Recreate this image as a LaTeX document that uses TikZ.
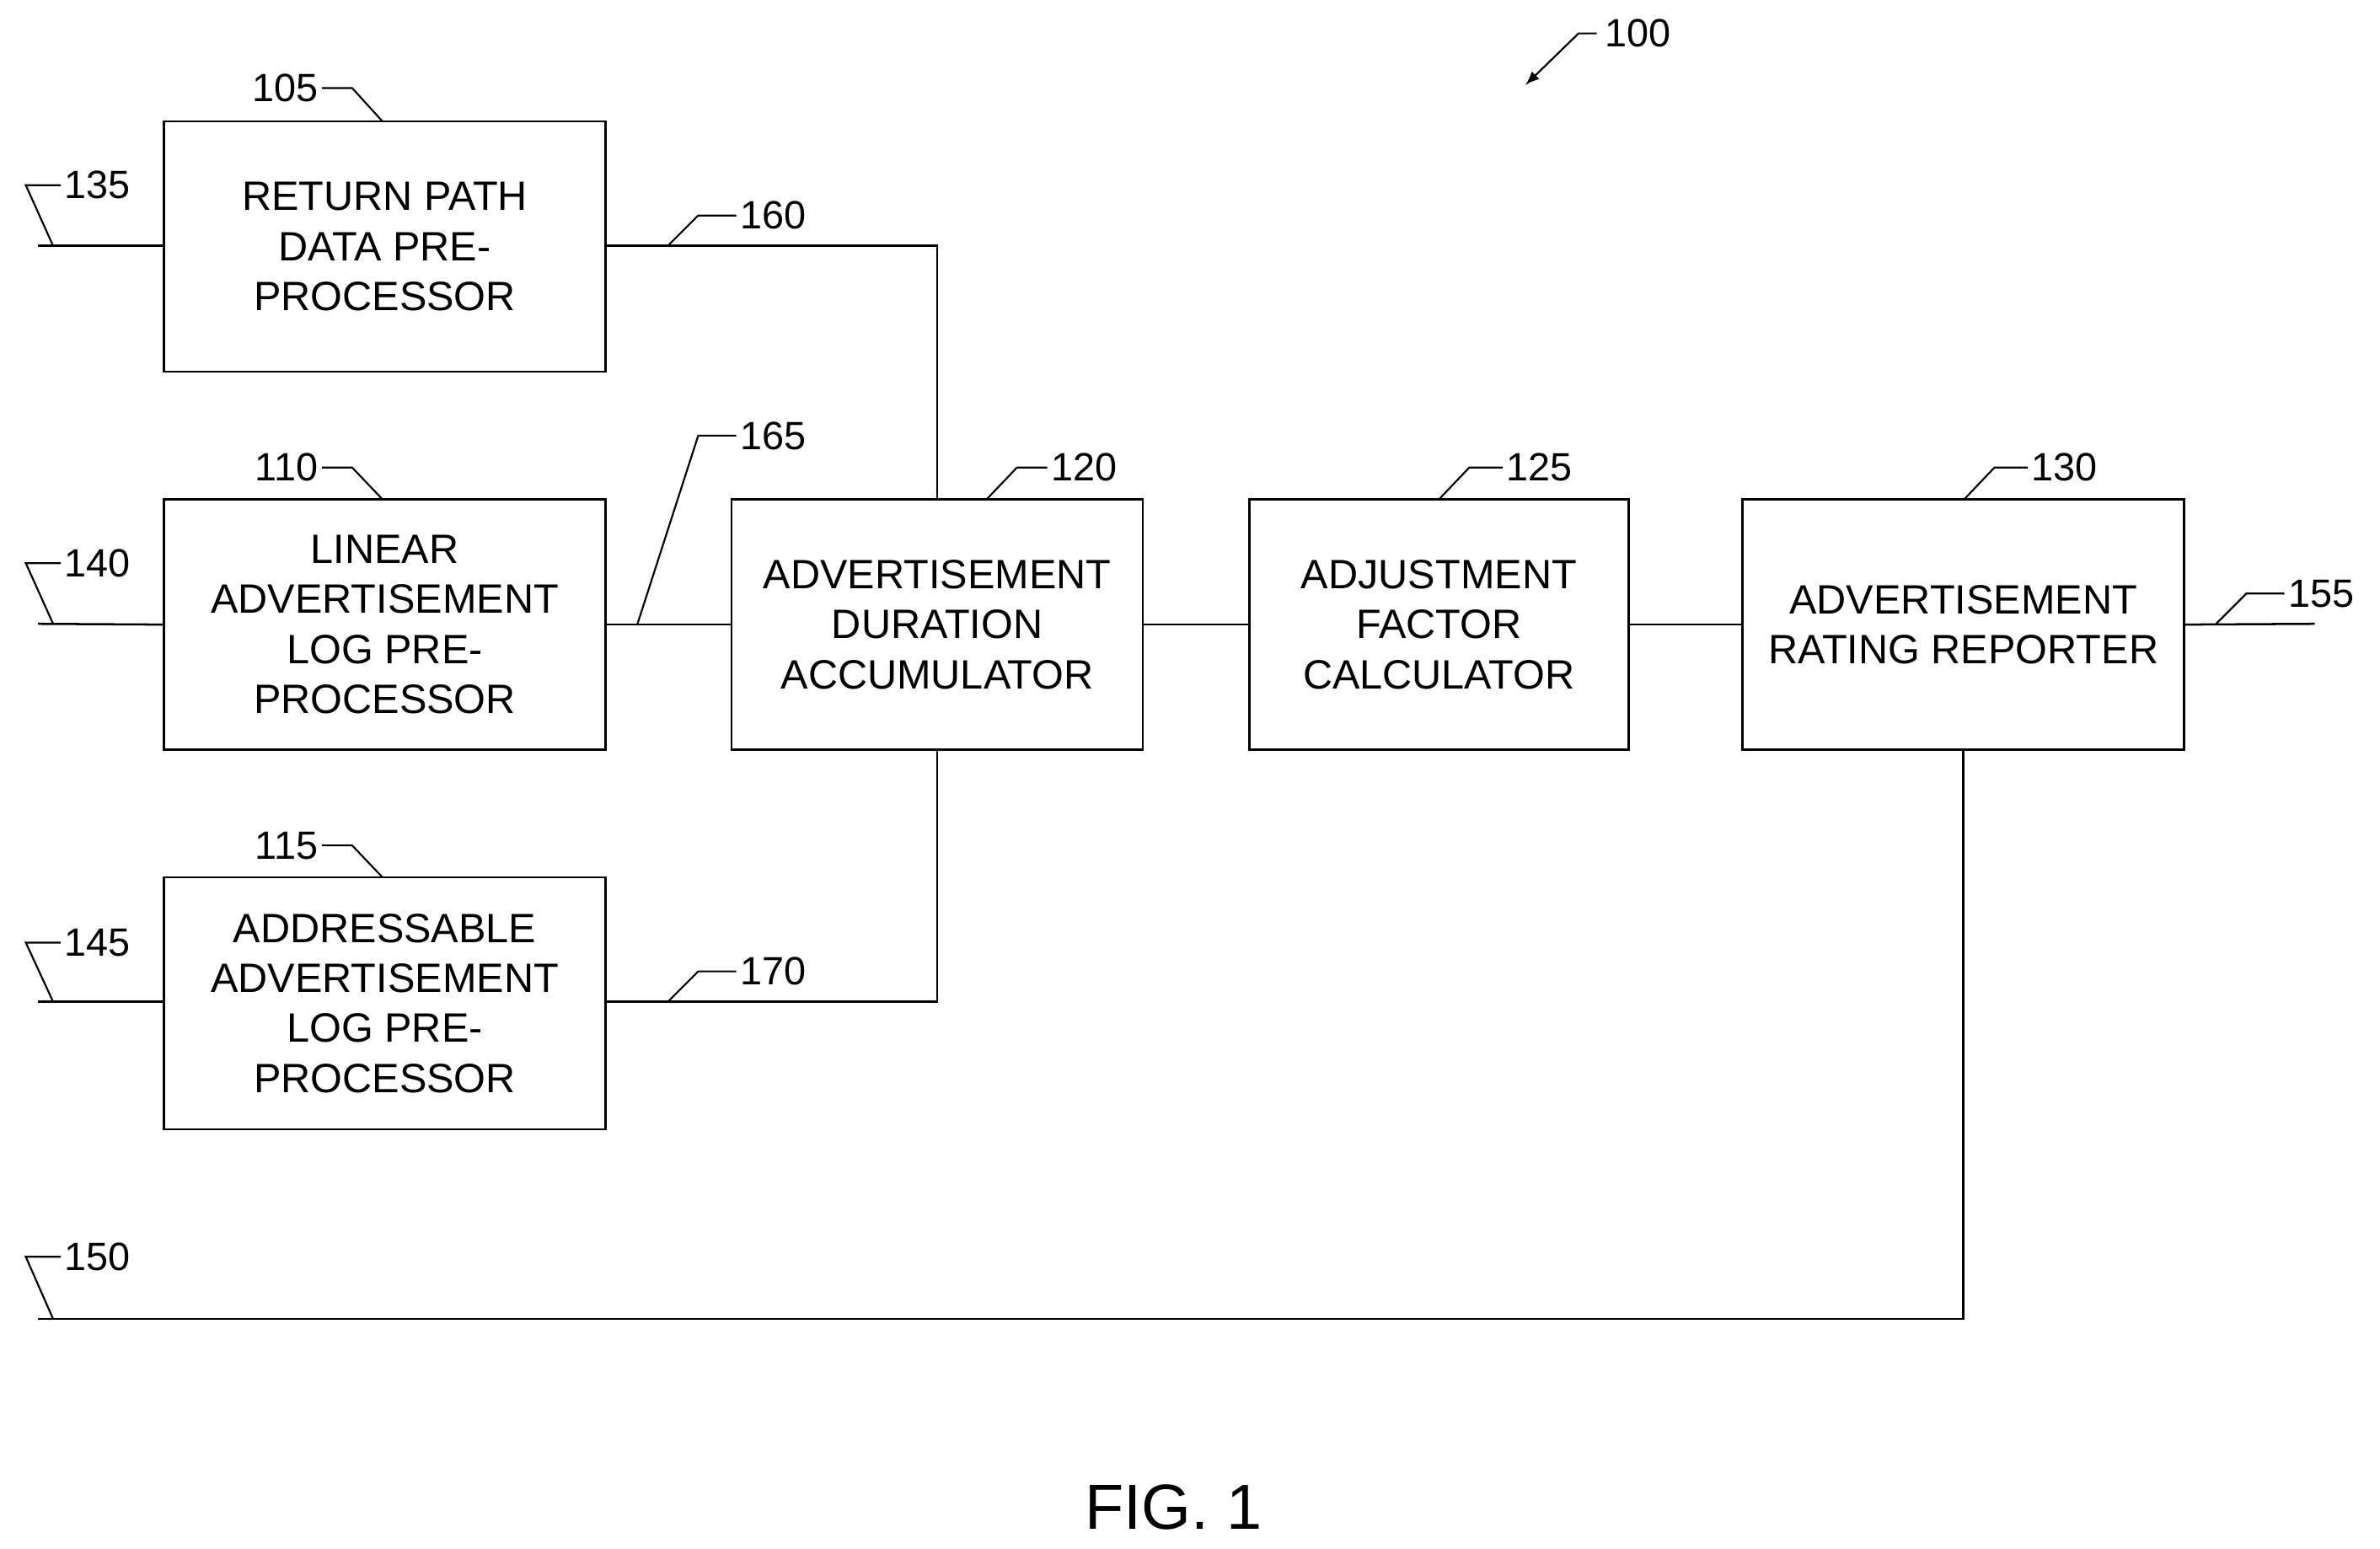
\documentclass[tikz,border=0pt]{standalone}
\usepackage{fontspec}
\setmainfont{Liberation Sans}
\usetikzlibrary{positioning}
\tikzset{
	block/.style={draw, line width=0.7pt, align=center, font=\fontsize{13.5}{16.5}\selectfont},
	lead/.style={line width=0.6pt},
	wire/.style={line width=0.7pt},
	refnum/.style={font=\fontsize{13}{15}\selectfont, inner sep=1pt}
}
\begin{document}
\begin{tikzpicture}[x=0.5pt, y=-0.5pt]
	\useasboundingbox (0,0) rectangle (1568,1020);

	% blocks
	\node[block, minimum width=145.5pt, minimum height=82.5pt] (rpd) at (253.5,162.5)
		{RETURN PATH\\DATA PRE-\\PROCESSOR};
	\node[block, minimum width=145.5pt, minimum height=82.5pt] (lin) at (253.5,411.5)
		{LINEAR\\ADVERTISEMENT\\LOG PRE-\\PROCESSOR};
	\node[block, minimum width=145.5pt, minimum height=83pt] (adr) at (253.5,661)
		{ADDRESSABLE\\ADVERTISEMENT\\LOG PRE-\\PROCESSOR};
	\node[block, minimum width=135.5pt, minimum height=82.5pt] (acc) at (617.5,411.5)
		{ADVERTISEMENT\\DURATION\\ACCUMULATOR};
	\node[block, minimum width=125pt, minimum height=82.5pt] (adj) at (948,411.5)
		{ADJUSTMENT\\FACTOR\\CALCULATOR};
	\node[block, minimum width=145.5pt, minimum height=82.5pt] (rep) at (1293.5,411.5)
		{ADVERTISEMENT\\RATING REPORTER};

	% free ends
	\coordinate (in135) at (25,162);
	\coordinate (in140) at (25,411);
	\coordinate (in145) at (25,660);
	\coordinate (in150) at (25,869);
	\coordinate (out155) at (1525,411);

	% wires
	\draw[wire] (in135) -- (rpd.west |- in135);
	\draw[wire] (in140) -- (lin.west);
	\draw[wire] (in145) -- (adr.west |- in145);
	\draw[wire] (rpd.east |- in135) -| (acc.north);
	\draw[wire] (lin.east) -- (acc.west);
	\draw[wire] (adr.east |- in145) -| (acc.south);
	\draw[wire] (acc.east) -- (adj.west);
	\draw[wire] (adj.east) -- (rep.west);
	\draw[wire] (rep.east) -- (out155);
	\draw[wire] (rep.south) |- (in150);

	% reference numerals
	\draw[lead] (35,162) -- (17,122) -- (40,122) node[refnum, right] {135};
	\draw[lead] (35,411) -- (17,371) -- (40,371) node[refnum, right] {140};
	\draw[lead] (35,660) -- (17,621) -- (40,621) node[refnum, right] {145};
	\draw[lead] (35,869) -- (17,828) -- (40,828) node[refnum, right] {150};
	\draw[lead] (440,162) -- (460,142) -- (485,142) node[refnum, right] {160};
	\draw[lead] (420,411) -- (460,287) -- (485,287) node[refnum, right] {165};
	\draw[lead] (440,660) -- (460,640) -- (485,640) node[refnum, right] {170};
	\draw[lead] (1460,411) -- (1480,391) -- (1505,391) node[refnum, right] {155};
	\draw[lead] (252,80) -- (232,58) -- (212,58) node[refnum, left] {105};
	\draw[lead] (252,329) -- (232,308) -- (212,308) node[refnum, left] {110};
	\draw[lead] (252,578) -- (232,557) -- (212,557) node[refnum, left] {115};
	\draw[lead] (650,329) -- (670,308) -- (690,308) node[refnum, right] {120};
	\draw[lead] (948,329) -- (968,308) -- (990,308) node[refnum, right] {125};
	\draw[lead] (1294,329) -- (1314,308) -- (1336,308) node[refnum, right] {130};
	\draw[lead, -latex] (1052,22) -- (1040,22) -- (1005,56);
	\node[refnum, right] (fig100) at (1055,22) {100};

	\node[font=\fontsize{21}{24}\selectfont] (cap) at (773,993) {FIG. 1};
\end{tikzpicture}
\end{document}
